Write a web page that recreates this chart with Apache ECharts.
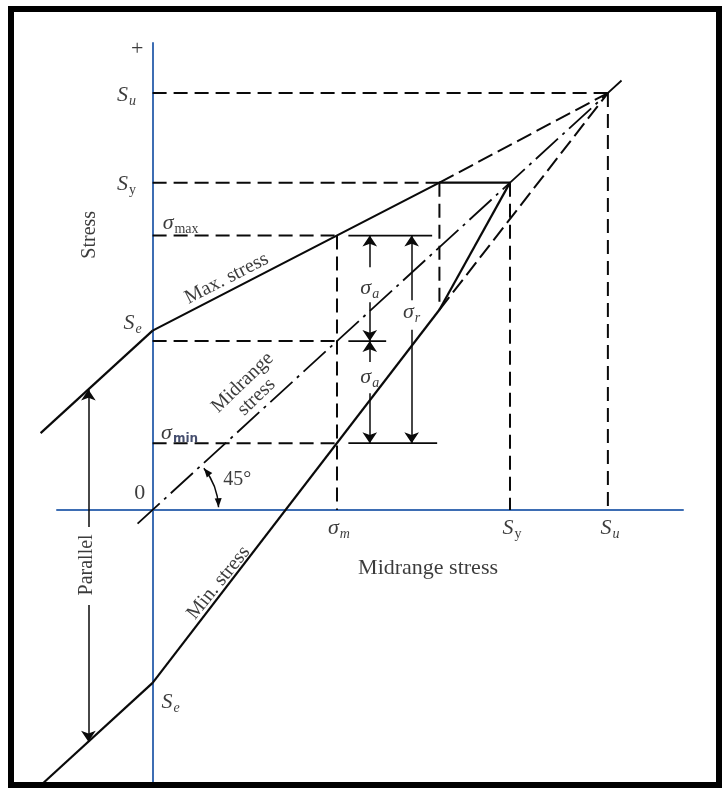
<!DOCTYPE html>
<html>
<head>
<meta charset="utf-8">
<script src="https://cdn.jsdelivr.net/npm/echarts@6/dist/echarts.min.js"></script>
<style>
  html, body { margin: 0; padding: 0; background: #fff; }
  #chart { width: 728px; height: 792px; }
</style>
</head>
<body>
<div id="chart"></div>
<script>
// strengths, same units on both axes
const Su = 10;
const Sy = 7.85;
const SeTop = 4.3;
const SeBottom = -4.15;

// working point
const sigmaM = 4.05;
const sigmaMax = 6.58;
const sigmaMin = 1.6;

// where the max-stress line reaches Sy, and the min-stress line below it
const cornerX = 6.3;
const kneeY = 4.8;

// the envelope lines
const maxStress = [[0, SeTop], [cornerX, Sy], [Sy, Sy]];
const minStress = [[0, SeBottom], [cornerX, kneeY]];
const leftParts = [[[-2.46, 1.84], [0, SeTop]], [[-2.42, -6.57], [0, SeBottom]]];
const closing = [[Sy, Sy], [cornerX, kneeY]];
const midrange = [[-0.33, -0.33], [10.3, 10.3]];
const maxToSu = [[cornerX, Sy], [Su, Su]];
const minToSu = [[cornerX, kneeY], [Su, Su]];

// x of the arrow columns and of the parallel arrow
const sigmaACol = 4.77;
const sigmaRCol = 5.69;
const parallelCol = -1.41;

const ink = '#0a0a0a';
const blue = '#3d6db3';
const serif = 'Liberation Serif';

var chart = echarts.init(document.getElementById('chart'));

function seg(data, type, width) {
    return {
        type: 'line', data: data, symbol: 'none', silent: true, clip: false,
        animation: false, z: 3,
        lineStyle: {color: ink, width: width || 2, type: type || 'solid'}
    };
}

const dash = [14, 7];
const longDash = [16, 6];
const dashDot = [30, 6, 3, 6];

const rich = {
    s: {fontFamily: serif, fontStyle: 'italic', fontSize: 22, color: ink},
    t: {fontFamily: serif, fontSize: 20, color: ink},
    big: {fontFamily: serif, fontSize: 22, color: ink},
    si: {fontFamily: serif, fontStyle: 'italic', fontSize: 14, color: ink, padding: [12, 0, 0, 1], verticalAlign: 'bottom'},
    su: {fontFamily: serif, fontSize: 14, color: ink, padding: [12, 0, 0, 1], verticalAlign: 'bottom'},
    sb: {fontFamily: 'DejaVu Sans', fontWeight: 'bold', fontSize: 12, color: '#16224a', padding: [12, 0, 0, 1], verticalAlign: 'bottom'}
};

function note(x, y, text, offset, rotate) {
    return {value: [x, y], label: {formatter: text, offset: offset || [0, 0], rotate: rotate || 0}};
}

const notes = [
    note(0, Su, '{s|S}{si|u}', [-26, 2]),
    note(0, Sy, '{s|S}{su|y}', [-26, 2]),
    note(0, SeTop, '{s|S}{si|e}', [-20, -7]),
    note(0, SeBottom, '{s|S}{si|e}', [18, 19]),
    note(0, sigmaMax, '{s|σ}{su|max}', [28, -12]),
    note(0, sigmaMin, '{s|σ}{sb|min}', [27, -10]),
    note(sigmaM, 0, '{s|σ}{si|m}', [2, 18]),
    note(Sy, 0, '{s|S}{su|y}', [2, 18]),
    note(Su, 0, '{s|S}{si|u}', [2, 18]),
    note(sigmaACol, 5.32, '{s|σ}{si|a}'),
    note(sigmaACol, 3.19, '{s|σ}{si|a}'),
    note(sigmaRCol, 4.74, '{s|σ}{si|r}'),
    note(-0.34, 11.06, '{big|+}'),
    note(-0.28, 0.41, '{big|0}'),
    note(1.86, 0.72, '{t|45°}'),
    note(6.05, -1.39, '{big|Midrange stress}'),
    note(-1.37, 6.6, '{t|Stress}', [0, 0], 90),
    note(-1.44, -1.32, '{t|Parallel}', [0, 0], 90),
    note(1.63, 5.55, '{t|Max. stress}', [0, 0], 27),
    note(2.13, 2.88, '{t|Midrange}\n{t|stress}', [0, 0], 44),
    note(1.45, -1.75, '{t|Min. stress}', [0, 0], 51)
];

// arrows run from the label gap out to the line they point at
const arrows = [
    [[sigmaACol, 5.82], [sigmaACol, sigmaMax]],
    [[sigmaACol, 4.98], [sigmaACol, sigmaM]],
    [[sigmaACol, 3.55], [sigmaACol, sigmaM]],
    [[sigmaACol, 2.8], [sigmaACol, sigmaMin]],
    [[sigmaRCol, 5.03], [sigmaRCol, sigmaMax]],
    [[sigmaRCol, 4.32], [sigmaRCol, sigmaMin]],
    [[parallelCol, -0.41], [parallelCol, SeTop + parallelCol]],
    [[parallelCol, -2.28], [parallelCol, SeBottom + parallelCol]]
];

function angleMark(params, api) {
    const c = api.coord([0, 0]);
    const d = api.size([1, 1]);
    const r = 66;
    const a0 = -Math.atan2(d[1], d[0]) + 0.06;
    const a1 = -0.04;
    function head(ang, dir) {
        const tip = [c[0] + r * Math.cos(ang), c[1] + r * Math.sin(ang)];
        const t = [-Math.sin(ang) * dir, Math.cos(ang) * dir];
        const n = [-t[1], t[0]];
        const L = 9, W = 3.5;
        return {
            type: 'polygon',
            shape: {points: [tip,
                [tip[0] - t[0] * L + n[0] * W, tip[1] - t[1] * L + n[1] * W],
                [tip[0] - t[0] * L - n[0] * W, tip[1] - t[1] * L - n[1] * W]]},
            style: {fill: ink}
        };
    }
    return {
        type: 'group',
        children: [
            {type: 'arc', shape: {cx: c[0], cy: c[1], r: r, startAngle: a0, endAngle: a1, clockwise: true},
             style: {stroke: ink, fill: null, lineWidth: 1.5}},
            head(a1, 1),
            head(a0, -1)
        ]
    };
}

const option = {
    animation: false,
    backgroundColor: '#fff',
    grid: {left: 57, right: 45, top: 43, bottom: 7, containLabel: false},
    xAxis: {
        type: 'value', min: -2.1, max: 11.65,
        axisLine: {show: true, onZero: true, lineStyle: {color: blue, width: 2}},
        axisTick: {show: false}, axisLabel: {show: false}, splitLine: {show: false}
    },
    yAxis: {
        type: 'value', min: -6.6, max: 11.2,
        axisLine: {show: true, onZero: true, lineStyle: {color: blue, width: 2}},
        axisTick: {show: false}, axisLabel: {show: false}, splitLine: {show: false}
    },
    graphic: [{
        type: 'rect', z: 100,
        shape: {x: 11, y: 9, width: 708, height: 776},
        style: {fill: null, stroke: '#000', lineWidth: 6}
    }],
    series: [
        // guide lines
        seg([[0, Su], [Su, Su]], dash),
        seg([[0, Sy], [cornerX, Sy]], dash),
        seg([[0, sigmaMax], [sigmaM, sigmaMax]], dash),
        seg([[0, sigmaM], [sigmaM, sigmaM]], dash),
        seg([[0, sigmaMin], [sigmaM, sigmaMin]], dash),
        seg([[sigmaM, sigmaMax], [sigmaM, 0]], dash),
        seg([[cornerX, Sy], [cornerX, kneeY]], dash),
        seg([[Sy, Sy], [Sy, 0]], dash),
        seg([[Su, Su], [Su, 0]], dash),
        // envelope
        seg(maxStress, 'solid', 2.2),
        seg(minStress, 'solid', 2.2),
        seg(closing, 'solid', 2.2),
        seg(maxToSu, longDash),
        seg(minToSu, longDash),
        seg(midrange, dashDot, 1.8),
        {
            // the parallel parts left of the stress axis run past the axis start
            type: 'lines', coordinateSystem: 'cartesian2d', silent: true, z: 3, clip: false,
            lineStyle: {color: ink, width: 2.2, opacity: 1, curveness: 0},
            data: leftParts.map(function (a) { return {coords: a}; })
        },
        // bars at the ends of the arrows
        seg([[4.3, sigmaMax], [6.14, sigmaMax]], 'solid', 1.8),
        seg([[4.3, sigmaM], [5.13, sigmaM]], 'solid', 1.8),
        seg([[4.3, sigmaMin], [6.25, sigmaMin]], 'solid', 1.8),
        {
            type: 'lines', coordinateSystem: 'cartesian2d', silent: true, z: 4,
            symbol: ['none', 'arrow'], symbolSize: [7, 11],
            lineStyle: {color: ink, width: 1.5, opacity: 1, curveness: 0},
            data: arrows.map(function (a) { return {coords: a}; })
        },
        {
            type: 'custom', silent: true, z: 4, clip: false,
            data: [[0, 0]],
            renderItem: angleMark
        },
        {
            type: 'scatter', silent: true, symbolSize: 0, z: 5,
            data: notes,
            label: {show: true, position: 'inside', align: 'center', verticalAlign: 'middle', rich: rich}
        }
    ]
};

chart.setOption(option);
</script>
</body>
</html>
